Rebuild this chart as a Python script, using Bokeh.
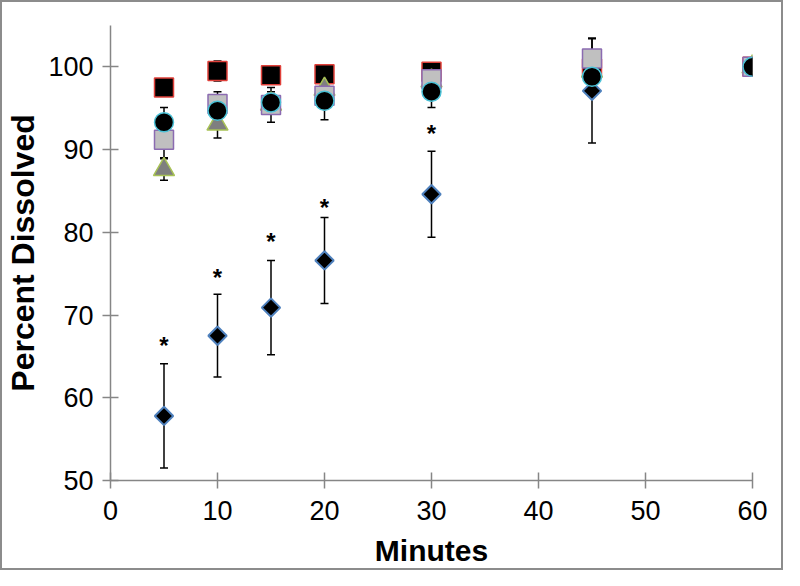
import numpy as np
from bokeh.plotting import figure
from bokeh.models import ColumnDataSource, Whisker, TeeHead, Range1d, FixedTicker
from bokeh.core.properties import value
from bokeh.embed import file_html
from bokeh.resources import INLINE

minutes = [5, 10, 15, 20, 30, 45, 60]

# series (percent dissolved) and their SD
diamond_mean = [57.8, 67.5, 70.9, 76.6, 84.6, 97.1, 100.0]
diamond_sd = [6.3, 5.0, 5.7, 5.2, 5.2, 6.3, 0.0]
red_sq_mean = [97.5, 99.5, 99.0, 99.1, 99.4, 99.8, 100.0]
red_sq_sd = [0.3, 1.2, 0.5, 0.4, 0.5, 0.5, 0.0]
tri_mean = [87.6, 93.1, 95.5, 97.3, 98.3, 99.5, 100.0]
tri_sd = [1.3, 1.7, 1.0, 1.0, 1.0, 1.0, 0.0]
gray_sq_mean = [91.2, 95.5, 95.4, 96.5, 98.5, 101.0, 100.0]
gray_sq_sd = [2.2, 1.5, 2.1, 1.0, 1.0, 2.5, 0.0]
circle_mean = [93.3, 94.7, 95.7, 95.9, 97.0, 98.8, 100.0]
circle_sd = [1.8, 1.5, 1.3, 2.3, 1.9, 1.0, 0.0]

# significance asterisks (minutes, height)
signif_minutes = [5, 10, 15, 20, 30]
signif_y = [66.7, 74.9, 79.2, 83.4, 92.3]

x_ticks = [0, 10, 20, 30, 40, 50, 60]
y_ticks = [50, 60, 70, 80, 90, 100]

AXIS_COLOR = "#868686"
FONT = "Liberation Sans"

p = figure(width=783, height=570, output_backend="svg", toolbar_location=None,
           x_range=Range1d(0, 60), y_range=Range1d(50, 105),
           min_border_left=106, min_border_right=33, min_border_top=23,
           min_border_bottom=92,
           styles={"border": "2px solid #8c8c8c", "box-sizing": "border-box"})
p.outline_line_color = None
p.xgrid.grid_line_color = None
p.ygrid.grid_line_color = None

for ax in (p.xaxis[0], p.yaxis[0]):
    ax.axis_line_color = AXIS_COLOR
    ax.axis_line_width = 1.5
    ax.major_tick_line_color = AXIS_COLOR
    ax.major_tick_line_width = 1.5
    ax.major_tick_in = 8
    ax.major_tick_out = 8
    ax.minor_tick_line_color = None
    ax.major_label_text_font = FONT
    ax.major_label_text_font_size = "27px"
    ax.major_label_text_color = "black"
    ax.axis_label_text_font = FONT
    ax.axis_label_text_font_style = "bold"
    ax.axis_label_text_color = "black"

p.xaxis.ticker = FixedTicker(ticks=x_ticks)
p.yaxis.ticker = FixedTicker(ticks=y_ticks)
p.xaxis.axis_label = "Minutes"
p.yaxis.axis_label = "Percent Dissolved"
p.xaxis.axis_label_text_font_size = "30px"
p.yaxis.axis_label_text_font_size = "32px"
p.xaxis.major_label_standoff = 12
p.yaxis.major_label_standoff = 9
p.xaxis.axis_label_standoff = 11
p.yaxis.axis_label_standoff = 4

series = [
    (diamond_mean, diamond_sd, dict(marker="square", size=13, angle=np.pi / 4,
                                    fill_color="black", line_color="#4f81bd", line_width=2)),
    (red_sq_mean, red_sq_sd, dict(marker="square", size=19,
                                  fill_color="black", line_color="#e0403a", line_width=1.5)),
    (tri_mean, tri_sd, dict(marker="triangle", size=21,
                            fill_color="#7f7f7f", line_color="#a8c256", line_width=1.5)),
    (gray_sq_mean, gray_sq_sd, dict(marker="square", size=19,
                                    fill_color="#c0c0c0", line_color="#8b6bb1", line_width=1.5)),
    (circle_mean, circle_sd, dict(marker="circle", size=19,
                                  fill_color="black", line_color="#4bc1d6", line_width=1.5)),
]

for mean, sd, style in series:
    xs = [m for m, s in zip(minutes, sd) if s > 0]
    up = [v + s for v, s in zip(mean, sd) if s > 0]
    lo = [v - s for v, s in zip(mean, sd) if s > 0]
    wsrc = ColumnDataSource(dict(x=xs, upper=up, lower=lo))
    w = Whisker(base="x", upper="upper", lower="lower", source=wsrc,
                line_color="black", line_width=1.5,
                upper_head=TeeHead(size=8, line_color="black", line_width=1.5),
                lower_head=TeeHead(size=8, line_color="black", line_width=1.5))
    p.add_layout(w)

for mean, sd, style in series:
    src = ColumnDataSource(dict(x=minutes, y=mean))
    p.scatter("x", "y", source=src, **style)

ast_src = ColumnDataSource(dict(x=signif_minutes, y=signif_y, t=["*"] * len(signif_minutes)))
p.text("x", "y", text="t", source=ast_src, text_align="center", text_baseline="middle",
       text_font=value(FONT), text_font_style="bold", text_font_size="24px",
       text_color="black", y_offset=3)

open("out.html", "w").write(file_html(p, INLINE))
